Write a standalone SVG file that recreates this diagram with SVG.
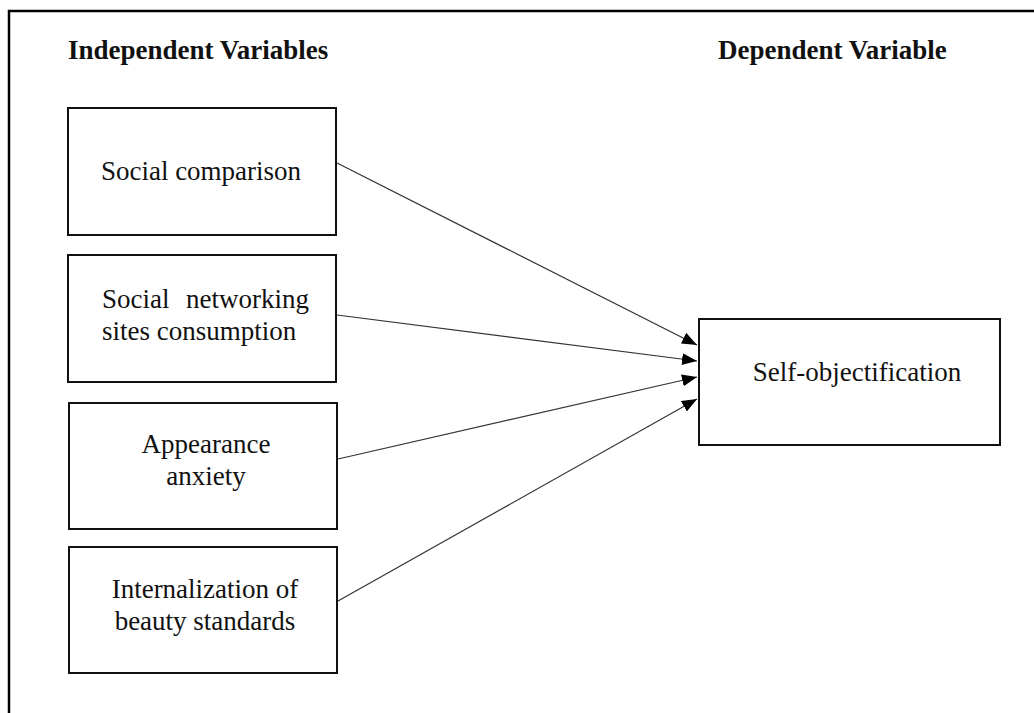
<svg xmlns="http://www.w3.org/2000/svg" width="1034" height="713" viewBox="0 0 1034 713">
<defs>
<style>
.box{fill:#fff;stroke:#111;stroke-width:2}
.t{font-family:"Liberation Serif","Times New Roman",serif;font-size:27px;fill:#111}
.h{font-family:"Liberation Serif","Times New Roman",serif;font-size:27px;font-weight:bold;fill:#111}
.c{stroke:#333;stroke-width:1.2;fill:none;marker-end:url(#ah)}
</style>
<marker id="ah" markerUnits="userSpaceOnUse" markerWidth="16" markerHeight="13" refX="15" refY="6" orient="auto">
<path d="M0,0 L15,6 L0,12 z" fill="#000"/>
</marker>
</defs>
<rect width="1034" height="713" fill="#fff"/>
<g id="frame">
<path d="M9,713 L9,11 L1034,11" fill="none" stroke="#000" stroke-width="2.5"/>
</g>
<g id="headers">
<text class="h" x="68" y="59">Independent Variables</text>
<text class="h" x="718" y="59">Dependent Variable</text>
</g>
<g id="connectors">
<line class="c" x1="337" y1="163" x2="697" y2="345"/>
<line class="c" x1="337" y1="315" x2="697" y2="361"/>
<line class="c" x1="338" y1="459" x2="697" y2="377"/>
<line class="c" x1="338" y1="601" x2="697" y2="399"/>
</g>
<g id="n1">
<rect class="box" x="68" y="108" width="268" height="127"/>
<text class="t" x="201" y="180" text-anchor="middle">Social comparison</text>
</g>
<g id="n2">
<rect class="box" x="68" y="255" width="268" height="127"/>
<text class="t" x="102" y="308">Social</text>
<text class="t" x="309" y="308" text-anchor="end">networking</text>
<text class="t" x="102" y="340">sites consumption</text>
</g>
<g id="n3">
<rect class="box" x="69" y="403" width="268" height="126"/>
<text class="t" x="206" y="453" text-anchor="middle">Appearance</text>
<text class="t" x="206" y="485" text-anchor="middle">anxiety</text>
</g>
<g id="n4">
<rect class="box" x="69" y="547" width="268" height="126"/>
<text class="t" x="205" y="598" text-anchor="middle">Internalization of</text>
<text class="t" x="205" y="630" text-anchor="middle">beauty standards</text>
</g>
<g id="n5">
<rect class="box" x="699" y="319" width="301" height="126"/>
<text class="t" x="857" y="381" text-anchor="middle">Self-objectification</text>
</g>
</svg>
